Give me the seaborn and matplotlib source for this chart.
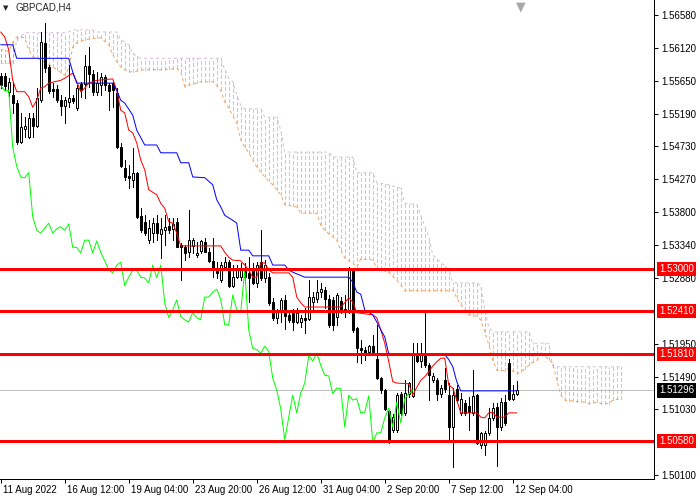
import numpy as np
import matplotlib
matplotlib.use('Agg')
import matplotlib.pyplot as plt
import matplotlib.transforms as mtransforms
import seaborn as sns

# GBPCAD H4 candles (130 bars, 11 Aug 20:00 .. 12 Sep 08:00)
opens = [1.5572, 1.5572, 1.5550, 1.5545, 1.5534, 1.5479, 1.5498, 1.5486, 1.5513, 1.5502,
         1.5538, 1.5619, 1.5585, 1.5554, 1.5554, 1.5538, 1.5530, 1.5535, 1.5541, 1.5527,
         1.5561, 1.5561, 1.5586, 1.5575, 1.5550, 1.5559, 1.5571, 1.5559, 1.5562, 1.5548,
         1.5472, 1.5443, 1.5431, 1.5426, 1.5436, 1.5375, 1.5367, 1.5341, 1.5351, 1.5365,
         1.5350, 1.5355, 1.5361, 1.5357, 1.5367, 1.5334, 1.5331, 1.5324, 1.5333, 1.5320,
         1.5326, 1.5338, 1.5324, 1.5312, 1.5299, 1.5285, 1.5303, 1.5310, 1.5277, 1.5289,
         1.5289, 1.5302, 1.5295, 1.5299, 1.5281, 1.5310, 1.5288, 1.5289, 1.5254, 1.5232,
         1.5243, 1.5257, 1.5236, 1.5239, 1.5226, 1.5226, 1.5232, 1.5230, 1.5254, 1.5258,
         1.5268, 1.5271, 1.5258, 1.5257, 1.5233, 1.5255, 1.5244, 1.5240, 1.5300, 1.5218,
         1.5189, 1.5187, 1.5184, 1.5192, 1.5174, 1.5147, 1.5130, 1.5100, 1.5074, 1.5074,
         1.5125, 1.5098, 1.5125, 1.5122, 1.5179, 1.5171, 1.5182, 1.5165, 1.5144, 1.5144,
         1.5125, 1.5144, 1.5123, 1.5078, 1.5132, 1.5098, 1.5112, 1.5108, 1.5098, 1.5123,
         1.5053, 1.5053, 1.5070, 1.5091, 1.5106, 1.5078, 1.5113, 1.5168, 1.5118, 1.5125]
highs = [1.5576, 1.5576, 1.5569, 1.5564, 1.5538, 1.5520, 1.5514, 1.5520, 1.5520, 1.5555,
         1.5634, 1.5647, 1.5588, 1.5562, 1.5559, 1.5545, 1.5543, 1.5588, 1.5545, 1.5559,
         1.5564, 1.5602, 1.5613, 1.5581, 1.5578, 1.5576, 1.5573, 1.5562, 1.5564, 1.5555,
         1.5478, 1.5454, 1.5447, 1.5471, 1.5437, 1.5386, 1.5376, 1.5369, 1.5372, 1.5376,
         1.5372, 1.5376, 1.5372, 1.5372, 1.5372, 1.5337, 1.5334, 1.5384, 1.5344, 1.5338,
         1.5341, 1.5344, 1.5330, 1.5344, 1.5310, 1.5310, 1.5317, 1.5313, 1.5306, 1.5306,
         1.5309, 1.5309, 1.5317, 1.5309, 1.5310, 1.5355, 1.5313, 1.5295, 1.5260, 1.5244,
         1.5260, 1.5264, 1.5243, 1.5244, 1.5246, 1.5236, 1.5246, 1.5285, 1.5268, 1.5285,
         1.5281, 1.5275, 1.5264, 1.5261, 1.5267, 1.5261, 1.5264, 1.5303, 1.5302, 1.5219,
         1.5201, 1.5191, 1.5194, 1.5208, 1.5222, 1.5149, 1.5132, 1.5102, 1.5097, 1.5126,
         1.5127, 1.5144, 1.5142, 1.5196, 1.5196, 1.5196, 1.5239, 1.5168, 1.5154, 1.5147,
         1.5137, 1.5161, 1.5140, 1.5133, 1.5137, 1.5126, 1.5116, 1.5120, 1.5158, 1.5125,
         1.5071, 1.5073, 1.5105, 1.5112, 1.5112, 1.5119, 1.5123, 1.5174, 1.5137, 1.5143]
lows = [1.5555, 1.5552, 1.5544, 1.5520, 1.5476, 1.5478, 1.5486, 1.5485, 1.5486, 1.5500,
        1.5535, 1.5578, 1.5548, 1.5543, 1.5535, 1.5517, 1.5506, 1.5528, 1.5534, 1.5524,
        1.5543, 1.5541, 1.5557, 1.5545, 1.5545, 1.5545, 1.5552, 1.5524, 1.5528, 1.5471,
        1.5444, 1.5426, 1.5414, 1.5416, 1.5372, 1.5353, 1.5348, 1.5337, 1.5338, 1.5341,
        1.5316, 1.5334, 1.5351, 1.5341, 1.5331, 1.5285, 1.5313, 1.5317, 1.5323, 1.5317,
        1.5323, 1.5324, 1.5310, 1.5289, 1.5288, 1.5282, 1.5299, 1.5275, 1.5275, 1.5288,
        1.5285, 1.5281, 1.5254, 1.5279, 1.5275, 1.5285, 1.5282, 1.5250, 1.5229, 1.5225,
        1.5226, 1.5216, 1.5226, 1.5215, 1.5225, 1.5219, 1.5211, 1.5229, 1.5243, 1.5254,
        1.5261, 1.5246, 1.5219, 1.5215, 1.5222, 1.5239, 1.5233, 1.5239, 1.5212, 1.5170,
        1.5168, 1.5173, 1.5182, 1.5181, 1.5146, 1.5126, 1.5102, 1.5056, 1.5071, 1.5071,
        1.5095, 1.5095, 1.5120, 1.5120, 1.5170, 1.5163, 1.5163, 1.5116, 1.5142, 1.5116,
        1.5120, 1.5127, 1.5057, 1.5022, 1.5113, 1.5095, 1.5095, 1.5074, 1.5095, 1.5054,
        1.5049, 1.5039, 1.5067, 1.5088, 1.5023, 1.5074, 1.5081, 1.5116, 1.5116, 1.5123]
closes = [1.5559, 1.5558, 1.5564, 1.5534, 1.5479, 1.5500, 1.5502, 1.5513, 1.5502, 1.5541,
          1.5620, 1.5583, 1.5551, 1.5551, 1.5538, 1.5530, 1.5538, 1.5541, 1.5537, 1.5555,
          1.5552, 1.5586, 1.5575, 1.5550, 1.5562, 1.5571, 1.5559, 1.5551, 1.5552, 1.5472,
          1.5445, 1.5430, 1.5429, 1.5436, 1.5374, 1.5355, 1.5351, 1.5358, 1.5365, 1.5351,
          1.5357, 1.5360, 1.5355, 1.5364, 1.5331, 1.5331, 1.5323, 1.5341, 1.5341, 1.5323,
          1.5340, 1.5324, 1.5312, 1.5299, 1.5295, 1.5306, 1.5310, 1.5277, 1.5289, 1.5299,
          1.5299, 1.5289, 1.5288, 1.5281, 1.5306, 1.5288, 1.5306, 1.5253, 1.5232, 1.5243,
          1.5257, 1.5234, 1.5229, 1.5226, 1.5239, 1.5232, 1.5229, 1.5261, 1.5261, 1.5268,
          1.5272, 1.5258, 1.5222, 1.5222, 1.5264, 1.5243, 1.5240, 1.5299, 1.5215, 1.5189,
          1.5187, 1.5182, 1.5192, 1.5184, 1.5147, 1.5130, 1.5104, 1.5060, 1.5092, 1.5123,
          1.5098, 1.5126, 1.5140, 1.5179, 1.5171, 1.5182, 1.5165, 1.5151, 1.5150, 1.5125,
          1.5133, 1.5132, 1.5078, 1.5123, 1.5116, 1.5118, 1.5098, 1.5099, 1.5122, 1.5056,
          1.5070, 1.5070, 1.5091, 1.5105, 1.5078, 1.5113, 1.5084, 1.5118, 1.5125, 1.51296]

# Ichimoku: tenkan / kijun turning points (bar, price)
tenkan_bar = [0, 1, 2, 3, 4, 6, 7, 8, 9, 10, 11, 12, 15, 16, 18, 19, 20, 21, 22, 24,
              28, 29, 30, 31, 32, 33, 34, 35, 36, 37, 39, 40, 41, 42, 43, 44, 45, 55, 56, 57,
              58, 60, 61, 62, 63, 64, 65, 66, 67, 68, 72, 73, 74, 75, 76, 85, 86, 87, 88, 89,
              93, 94, 95, 96, 97, 98, 99, 102, 103, 104, 105, 106, 107, 108, 109, 110, 111, 112, 113, 114,
              115, 119, 120, 121, 122, 123, 124, 126, 127, 129]
tenkan = [1.5634, 1.5627, 1.5609, 1.5566, 1.5550, 1.5550, 1.5543, 1.5528, 1.5538, 1.5555,
          1.5557, 1.5562, 1.5566, 1.5569, 1.5576, 1.5564, 1.5550, 1.5555, 1.5562, 1.5566,
          1.5568, 1.5552, 1.5524, 1.5520, 1.5496, 1.5492, 1.5478, 1.5454, 1.5440, 1.5412,
          1.5405, 1.5393, 1.5386, 1.5367, 1.5365, 1.5351, 1.5333, 1.5333, 1.5324, 1.5317,
          1.5313, 1.5312, 1.5306, 1.5299, 1.5289, 1.5289, 1.5309, 1.5309, 1.5299, 1.5295,
          1.5295, 1.5289, 1.5261, 1.5253, 1.5247, 1.5247, 1.5253, 1.5260, 1.5254, 1.5239,
          1.5236, 1.5232, 1.5215, 1.5196, 1.5170, 1.5142, 1.5140, 1.5139, 1.5123, 1.5134,
          1.5144, 1.5149, 1.5156, 1.5164, 1.5170, 1.5175, 1.5175, 1.5137, 1.5133, 1.5116,
          1.5098, 1.5098, 1.5092, 1.5091, 1.5098, 1.5099, 1.5092, 1.5092, 1.5098, 1.5098]
kijun_bar = [0, 3, 4, 17, 18, 19, 28, 29, 30, 31, 33, 34, 36, 39, 40, 44, 45, 47, 48, 51,
             53, 54, 55, 56, 58, 59, 60, 62, 63, 67, 68, 71, 72, 73, 76, 87, 88, 89, 90, 91,
             93, 94, 95, 96, 97, 111, 112, 113, 114, 115, 129]
kijun = [1.5616, 1.5616, 1.5597, 1.5597, 1.5578, 1.5562, 1.5562, 1.5552, 1.5538, 1.5534,
         1.5517, 1.5496, 1.5475, 1.5475, 1.5464, 1.5464, 1.5450, 1.5450, 1.5430, 1.5429,
         1.5419, 1.5398, 1.5388, 1.5376, 1.5369, 1.5365, 1.5327, 1.5327, 1.5319, 1.5319,
         1.5306, 1.5306, 1.5299, 1.5296, 1.5289, 1.5289, 1.5282, 1.5268, 1.5265, 1.5243,
         1.5236, 1.5226, 1.5215, 1.5205, 1.5181, 1.5180, 1.5173, 1.5163, 1.5142, 1.5129,
         1.5129]

# senkou spans, one value per bar (already shifted 26 bars ahead)
span_a = [1.5609, 1.5609, 1.5606, 1.5620, 1.5627, 1.5627, 1.5626, 1.5609, 1.5599, 1.5597,
          1.5595, 1.5592, 1.5588, 1.5585, 1.5581, 1.5577, 1.5573, 1.5583, 1.5613, 1.5619,
          1.5621, 1.5623, 1.5624, 1.5625, 1.5625, 1.5626, 1.5621, 1.5616, 1.5602, 1.5592,
          1.5585, 1.5581, 1.5578, 1.5578, 1.5579, 1.5580, 1.5581, 1.5581, 1.5581, 1.5581,
          1.5581, 1.5581, 1.5582, 1.5582, 1.5583, 1.5578, 1.5557, 1.5559, 1.5561, 1.5562,
          1.5564, 1.5564, 1.5564, 1.5564, 1.5558, 1.5552, 1.5535, 1.5527, 1.5516, 1.5506,
          1.5482, 1.5472, 1.5464, 1.5454, 1.5444, 1.5437, 1.5430, 1.5424, 1.5419, 1.5412,
          1.5405, 1.5391, 1.5390, 1.5389, 1.5388, 1.5379, 1.5379, 1.5379, 1.5379, 1.5379,
          1.5362, 1.5355, 1.5350, 1.5346, 1.5341, 1.5327, 1.5316, 1.5312, 1.5309, 1.5303,
          1.5315, 1.5314, 1.5314, 1.5313, 1.5302, 1.5300, 1.5298, 1.5296, 1.5290, 1.5285,
          1.5278, 1.5270, 1.5270, 1.5270, 1.5270, 1.5270, 1.5270, 1.5270, 1.5270, 1.5270,
          1.5270, 1.5270, 1.5270, 1.5271, 1.5260, 1.5250, 1.5243, 1.5236, 1.5235, 1.5234,
          1.5229, 1.5212, 1.5194, 1.5172, 1.5158, 1.5158, 1.5157, 1.5161, 1.5157, 1.5153,
          1.5156, 1.5160, 1.5165, 1.5169, 1.5172, 1.5179, 1.5178, 1.5173, 1.5168, 1.5144,
          1.5123, 1.5116, 1.5115, 1.5115, 1.5114, 1.5114, 1.5113, 1.5111, 1.5112, 1.5113,
          1.5111, 1.5111, 1.5111, 1.5116, 1.5117, 1.5118]
span_b = [1.5590, 1.5590, 1.5590, 1.5590, 1.5623, 1.5628, 1.5633, 1.5633, 1.5633, 1.5633,
          1.5633, 1.5633, 1.5633, 1.5633, 1.5633, 1.5633, 1.5633, 1.5634, 1.5637, 1.5637,
          1.5637, 1.5637, 1.5637, 1.5637, 1.5634, 1.5634, 1.5634, 1.5634, 1.5634, 1.5634,
          1.5623, 1.5620, 1.5616, 1.5604, 1.5600, 1.5597, 1.5597, 1.5597, 1.5597, 1.5597,
          1.5597, 1.5597, 1.5597, 1.5597, 1.5597, 1.5597, 1.5597, 1.5597, 1.5597, 1.5597,
          1.5597, 1.5597, 1.5597, 1.5597, 1.5597, 1.5597, 1.5581, 1.5569, 1.5564, 1.5545,
          1.5531, 1.5526, 1.5526, 1.5526, 1.5526, 1.5526, 1.5514, 1.5514, 1.5514, 1.5514,
          1.5496, 1.5465, 1.5465, 1.5465, 1.5465, 1.5465, 1.5465, 1.5465, 1.5465, 1.5465,
          1.5465, 1.5465, 1.5465, 1.5458, 1.5458, 1.5458, 1.5458, 1.5458, 1.5458, 1.5436,
          1.5436, 1.5436, 1.5436, 1.5436, 1.5422, 1.5421, 1.5420, 1.5419, 1.5417, 1.5416,
          1.5414, 1.5393, 1.5392, 1.5392, 1.5391, 1.5376, 1.5361, 1.5346, 1.5320, 1.5315,
          1.5310, 1.5305, 1.5299, 1.5281, 1.5281, 1.5281, 1.5281, 1.5281, 1.5281, 1.5281,
          1.5277, 1.5243, 1.5219, 1.5212, 1.5212, 1.5212, 1.5212, 1.5212, 1.5212, 1.5212,
          1.5212, 1.5212, 1.5212, 1.5196, 1.5196, 1.5196, 1.5196, 1.5196, 1.5163, 1.5163,
          1.5163, 1.5163, 1.5163, 1.5163, 1.5163, 1.5163, 1.5163, 1.5163, 1.5163, 1.5163,
          1.5163, 1.5163, 1.5163, 1.5163, 1.5163, 1.5163]

levels = [1.53000, 1.52410, 1.51810, 1.50580]
last_price = 1.51296
ytick_vals = [1.56580, 1.56120, 1.55650, 1.55190, 1.54730, 1.54270, 1.53800,
              1.53340, 1.52880, 1.51950, 1.51490, 1.51030, 1.50100]
xtick_bars = [0, 16, 32, 48, 64, 80, 96, 112, 128]
xtick_labels = ['11 Aug 2022', '16 Aug 12:00', '19 Aug 04:00', '23 Aug 20:00',
                '26 Aug 12:00', '31 Aug 04:00', '2 Sep 20:00', '7 Sep 12:00',
                '12 Sep 04:00']

sns.set_style('white')
plt.rcParams['font.family'] = ['Liberation Sans', 'DejaVu Sans']
px = 0.72   # one pixel in points
thin = 0.5  # crisp 1px strokes when aliased

fig = plt.figure(figsize=(7, 5), dpi=100)
ax = fig.add_axes([0, 21 / 500, 654 / 700, 479 / 500])

# cloud: vertical dotted strokes between the spans
sx = np.arange(len(span_a))
a = np.array(span_a)
b = np.array(span_b)
bear = b >= a
ax.vlines(sx[bear], a[bear], b[bear], colors='#D8BFD8', linewidth=thin,
          linestyles=[(0, (5, 3))], antialiased=False, zorder=1)
ax.vlines(sx[~bear], b[~bear], a[~bear], colors='#F4A460', linewidth=thin,
          linestyles=[(0, (5, 3))], antialiased=False, zorder=1)
ax.plot(sx, span_a, color='#F4A460', linewidth=px, linestyle=(0, (3, 3)), zorder=1.2)
ax.plot(sx, span_b, color='#D8BFD8', linewidth=px, linestyle=(0, (3, 3)), zorder=1.2)

ax.axhline(last_price, color='#C0C0C0', linewidth=thin, antialiased=False, zorder=1.5)

# candles
bx = np.arange(len(closes))
o = np.array(opens)
c = np.array(closes)
body_lo = np.minimum(o, c)
body_h = np.maximum(np.abs(c - o), 0.00003)
face = np.where(c >= o, 'white', 'black')
ax.vlines(bx, lows, highs, colors='black', linewidth=thin, antialiased=False, zorder=3)
ax.bar(bx, body_h, bottom=body_lo, width=0.55, color=face, edgecolor='black',
       linewidth=px, zorder=4)

# ichimoku lines
sns.lineplot(x=tenkan_bar, y=tenkan, color='#FF0000', linewidth=px, estimator=None,
             ax=ax, zorder=5)
sns.lineplot(x=kijun_bar, y=kijun, color='#0000FF', linewidth=px, estimator=None,
             ax=ax, zorder=5)
sns.lineplot(x=bx[:len(closes) - 26], y=closes[26:], color='#00FF00', linewidth=px,
             estimator=None, ax=ax, zorder=5)

for lv in levels:
    ax.axhline(lv, color='#FF0000', linewidth=1.8, antialiased=False, zorder=6)

ax.set_xlim(-0.175, 163.3)
ax.set_ylim(1.5005, 1.5679)
ax.set_xlabel('')
ax.set_ylabel('')

for side in ['top', 'left']:
    ax.spines[side].set_visible(False)
for side in ['right', 'bottom']:
    ax.spines[side].set_color('black')
    ax.spines[side].set_linewidth(px)

ax.yaxis.tick_right()
ax.set_yticks(ytick_vals)
ax.set_yticklabels(['%.5f' % v for v in ytick_vals])
ax.tick_params(axis='y', direction='out', length=3, width=px, pad=2,
               labelsize=7, colors='black', right=True, left=False)

ax.set_xticks(xtick_bars)
ax.set_xticklabels(xtick_labels)
ax.tick_params(axis='x', direction='out', length=3, width=px, pad=1,
               labelsize=7, colors='black', bottom=True)
shift = mtransforms.ScaledTranslation(2 / 100, 0, fig.dpi_scale_trans)
for lab in ax.get_xticklabels():
    lab.set_horizontalalignment('left')
    lab.set_transform(lab.get_transform() + shift)

# price boxes on the right scale
tr = mtransforms.blended_transform_factory(ax.transAxes, ax.transData)
box_off = mtransforms.ScaledTranslation(5 / 100, 0, fig.dpi_scale_trans)
for lv in levels:
    ax.text(1.0, lv, '%.5f' % lv, transform=tr + box_off, color='white', fontsize=7,
            ha='left', va='center', clip_on=False, zorder=10,
            bbox=dict(boxstyle='square,pad=0.22', fc='#FF0000', ec='none'))
ax.text(1.0, last_price, '%.5f' % last_price, transform=tr + box_off, color='white',
        fontsize=7, ha='left', va='center', clip_on=False, zorder=10,
        bbox=dict(boxstyle='square,pad=0.22', fc='black', ec='none'))

# window caption
fig.text(3 / 700, 1 - 8 / 500, '\u25bc', fontsize=5, family='DejaVu Sans', va='center')
fig.text(15 / 700, 1 - 8 / 500, 'GBPCAD,H4', fontsize=7, va='center', ha='left')
fig.text(521 / 700, 1.0, '\u25bc', fontsize=9, color='#A8A8A8', family='DejaVu Sans',
         ha='center', va='top')

fig.savefig('out.png', dpi=100)
